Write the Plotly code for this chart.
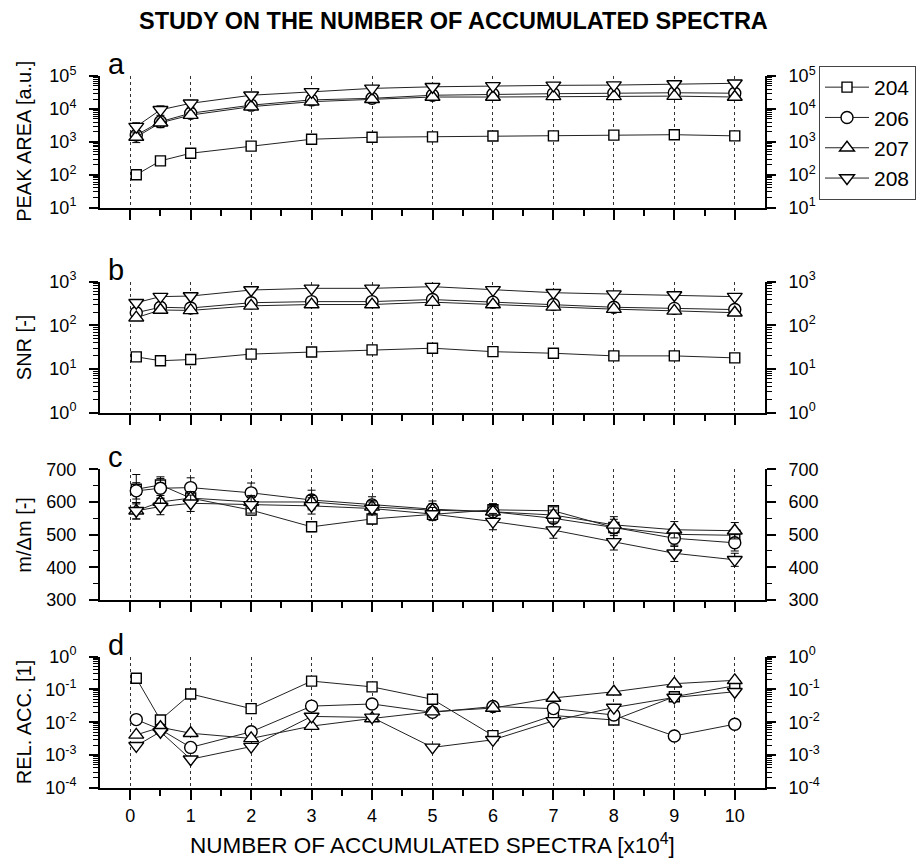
import plotly.graph_objects as go

# ---------------- data ----------------
x_vals = [0.1, 0.5, 1, 2, 3, 4, 5, 6, 7, 8, 9, 10]
series_names = ["204", "206", "207", "208"]

area_204 = [100, 265, 450, 740, 1200, 1380, 1420, 1500, 1520, 1600, 1650, 1520]
area_206 = [1600, 4100, 7400, 13000, 18800, 21000, 26000, 28000, 29000, 30000, 31000, 30000]
area_207 = [1400, 3800, 6500, 11700, 16600, 19600, 23000, 23000, 24000, 24000, 24500, 23000]
area_208 = [2900, 9400, 14800, 26000, 33000, 42000, 47000, 50000, 52000, 53000, 57000, 60000]
area_err_204 = [25, 50, 50, 40, 50, 50, 50, 50, 50, 50, 50, 50]
area_err_206 = [500, 1200, 1500, 1500, 2000, 2000, 2000, 2000, 2000, 2000, 2000, 2000]
area_err_207 = [450, 1100, 1300, 1300, 1800, 1800, 1800, 1800, 1800, 1800, 1800, 1800]
area_err_208 = [900, 3000, 3500, 3000, 3000, 3000, 3000, 3000, 3000, 3000, 3000, 3000]

snr_204 = [19, 15.5, 16.5, 22, 24.5, 27.5, 30, 25, 23, 20, 20, 18]
snr_206 = [195, 260, 250, 330, 350, 350, 390, 340, 300, 260, 245, 230]
snr_207 = [150, 225, 220, 280, 300, 300, 340, 300, 265, 235, 215, 195]
snr_208 = [330, 455, 470, 645, 705, 705, 770, 650, 560, 520, 495, 455]

res_204 = [639, 652, 612, 575, 524, 548, 562, 576, 573, 522, 501, 498]
res_206 = [634, 642, 644, 628, 606, 591, 578, 570, 550, 522, 489, 475]
res_207 = [573, 600, 612, 600, 600, 585, 575, 570, 560, 530, 515, 512]
res_208 = [573, 586, 596, 591, 588, 580, 563, 540, 514, 478, 443, 423]
res_err_204 = [45, 25, 20, 15, 15, 15, 15, 15, 15, 15, 15, 15]
res_err_206 = [25, 30, 30, 30, 30, 25, 25, 25, 25, 25, 25, 25]
res_err_207 = [25, 20, 20, 20, 20, 20, 20, 20, 25, 25, 25, 25]
res_err_208 = [25, 25, 25, 25, 25, 20, 20, 25, 25, 25, 25, 20]

acc_204 = [0.22, 0.0117, 0.073, 0.026, 0.18, 0.12, 0.05, 0.0039, 0.016, 0.0117, 0.06, 0.13]
acc_206 = [0.012, 0.006, 0.0017, 0.0051, 0.031, 0.036, 0.02, 0.03, 0.026, 0.0166, 0.0038, 0.0087]
acc_207 = [0.0041, 0.007, 0.0046, 0.0032, 0.0076, 0.013, 0.021, 0.027, 0.055, 0.085, 0.15, 0.19]
acc_208 = [0.0019, 0.0051, 0.00074, 0.0018, 0.015, 0.014, 0.0017, 0.0029, 0.011, 0.028, 0.057, 0.085]

x_ticks = list(range(0, 11))
x_minor = [i + 0.5 for i in range(0, 10)]

panel_letters = ["a", "b", "c", "d"]
panel_titles = ["PEAK AREA [a.u.]", "SNR [-]", "m/\u0394m [-]", "REL. ACC. [1]"]
x_title = "NUMBER OF ACCUMULATED SPECTRA [x10<sup>4</sup>]"
main_title = "<b>STUDY ON THE NUMBER OF ACCUMULATED SPECTRA</b>"

# ---------------- style ----------------
FONT = "Liberation Sans, Arial, sans-serif"
W, H = 920, 860
PL, PR = 100, 765
# panel pixel extents (top, bottom)
panel_px = [(76, 207.7), (281.7, 412.7), (469.3, 600), (656.7, 787.7)]
domains = [[1 - b / H, 1 - t / H] for t, b in panel_px]

symbols = {"204": ("square", 10), "206": ("circle", 12), "207": ("triangle-up", 13), "208": ("triangle-down", 13)}

panel_data = [
    ({"204": area_204, "206": area_206, "207": area_207, "208": area_208},
     {"204": area_err_204, "206": area_err_206, "207": area_err_207, "208": area_err_208}),
    ({"204": snr_204, "206": snr_206, "207": snr_207, "208": snr_208}, None),
    ({"204": res_204, "206": res_206, "207": res_207, "208": res_208},
     {"204": res_err_204, "206": res_err_206, "207": res_err_207, "208": res_err_208}),
    ({"204": acc_204, "206": acc_206, "207": acc_207, "208": acc_208}, None),
]


def log_ticks(lo, hi):
    vals = [10.0 ** e for e in range(lo, hi + 1)]
    text = ["10<sup>%d</sup>" % e for e in range(lo, hi + 1)]
    minor = [k * 10.0 ** e for e in range(lo, hi) for k in range(2, 10)]
    return vals, text, minor


y_cfg = []
v, t, m = log_ticks(1, 5)
y_cfg.append(dict(type="log", range=[1, 5], tickvals=v, ticktext=t, minor_vals=m))
v, t, m = log_ticks(0, 3)
y_cfg.append(dict(type="log", range=[0, 3], tickvals=v, ticktext=t, minor_vals=m))
y_cfg.append(dict(type="linear", range=[300, 700], tickvals=[300, 400, 500, 600, 700],
                  ticktext=["300", "400", "500", "600", "700"], minor_vals=[350, 450, 550, 650]))
v, t, m = log_ticks(-4, 0)
y_cfg.append(dict(type="log", range=[-4, 0], tickvals=v, ticktext=t, minor_vals=m))

fig = go.Figure()

for i, (vals, errs) in enumerate(panel_data):
    n = i + 1
    xa = "x" if n == 1 else "x%d" % n
    ya = "y" if n == 1 else "y%d" % n
    for name in series_names:
        sym, sz = symbols[name]
        err = dict(visible=False)
        if errs is not None:
            err = dict(type="data", array=errs[name], visible=True, color="black", thickness=1, width=4)
        fig.add_trace(go.Scatter(
            x=x_vals, y=vals[name], xaxis=xa, yaxis=ya, mode="lines+markers",
            name=name, legendgroup=name, showlegend=(n == 1),
            line=dict(color="#222", width=1),
            marker=dict(symbol=sym, size=sz, color="white", line=dict(color="black", width=1.4)),
            error_y=err,
        ))
    # dummy trace for right-hand axis
    fig.add_trace(go.Scatter(x=[None], y=[None], xaxis=xa, yaxis="y%d" % (n + 4),
                             showlegend=False, hoverinfo="skip", mode="markers"))

layout = dict(
    template="none",
    width=W, height=H, autosize=False,
    margin=dict(l=PL, r=W - PR, t=0, b=0, pad=0),
    paper_bgcolor="white", plot_bgcolor="white",
    font=dict(family=FONT, size=18, color="black"),
    showlegend=True,
    legend=dict(x=(819 - PL) / (PR - PL), y=1 - 66 / H, xanchor="left", yanchor="top",
                bordercolor="#444", borderwidth=1, bgcolor="white",
                font=dict(family=FONT, size=21, color="black"),
                tracegroupgap=0, itemwidth=44),
)

for i in range(4):
    n = i + 1
    xk = "xaxis" if n == 1 else "xaxis%d" % n
    yk = "yaxis" if n == 1 else "yaxis%d" % n
    layout[xk] = dict(
        domain=[0, 1], anchor="y" if n == 1 else "y%d" % n,
        range=[-0.5, 10.5], showline=True, linecolor="black", linewidth=2,
        ticks="outside", ticklen=10, tickwidth=1.5, tickcolor="black",
        tickvals=x_ticks, ticktext=[str(v) for v in x_ticks],
        showticklabels=(n == 4), ticklabelstandoff=1,
        tickfont=dict(family=FONT, size=18),
        minor=dict(tickvals=x_minor, ticks="outside", ticklen=6, tickwidth=1.5, tickcolor="black",
                   showgrid=False),
        showgrid=True, gridcolor="#333", gridwidth=1, griddash="3px,3px",
        zeroline=False, mirror=False, automargin=False, fixedrange=True,
    )
    c = y_cfg[i]
    common = dict(
        domain=domains[i], type=c["type"], range=c["range"],
        showline=True, linecolor="black", linewidth=2,
        ticks="outside", ticklen=9, tickwidth=1.5, tickcolor="black",
        tickmode="array", tickvals=c["tickvals"], ticktext=c["ticktext"],
        tickfont=dict(family=FONT, size=18), ticklabelstandoff=9,
        minor=dict(tickmode="array", tickvals=c["minor_vals"], ticks="outside", ticklen=5,
                   tickwidth=1.2, tickcolor="black", showgrid=False),
        showgrid=False, zeroline=False, automargin=False, fixedrange=True,
    )
    layout[yk] = dict(common, anchor="x" if n == 1 else "x%d" % n, side="left")
    layout["yaxis%d" % (n + 4)] = dict(common, anchor="x" if n == 1 else "x%d" % n, side="right",
                                       overlaying="y" if n == 1 else "y%d" % n)

annotations = []
for i in range(4):
    top, bot = panel_px[i]
    annotations.append(dict(
        text=panel_letters[i], xref="paper", yref="paper",
        x=(106 - PL) / (PR - PL), y=1 - (top + 6) / H, xanchor="left", yanchor="bottom",
        showarrow=False, font=dict(family=FONT, size=29, color="black")))
    annotations.append(dict(
        text=panel_titles[i], xref="paper", yref="paper",
        x=(24 - PL) / (PR - PL), y=1 - ((top + bot) / 2) / H, xanchor="center", yanchor="middle",
        textangle=-90, showarrow=False, font=dict(family=FONT, size=20, color="black")))
annotations.append(dict(
    text=x_title, xref="paper", yref="paper", x=0.5, y=0.0,
    xanchor="center", yanchor="bottom", showarrow=False,
    font=dict(family=FONT, size=22.5, color="black")))
annotations.append(dict(
    text=main_title, xref="paper", yref="paper", x=(453 - PL) / (PR - PL), y=1 - 21 / H,
    xanchor="center", yanchor="middle", showarrow=False,
    font=dict(family=FONT, size=23.5, color="black")))
layout["annotations"] = annotations

fig.update_layout(**layout)
fig.write_html("out.html")
